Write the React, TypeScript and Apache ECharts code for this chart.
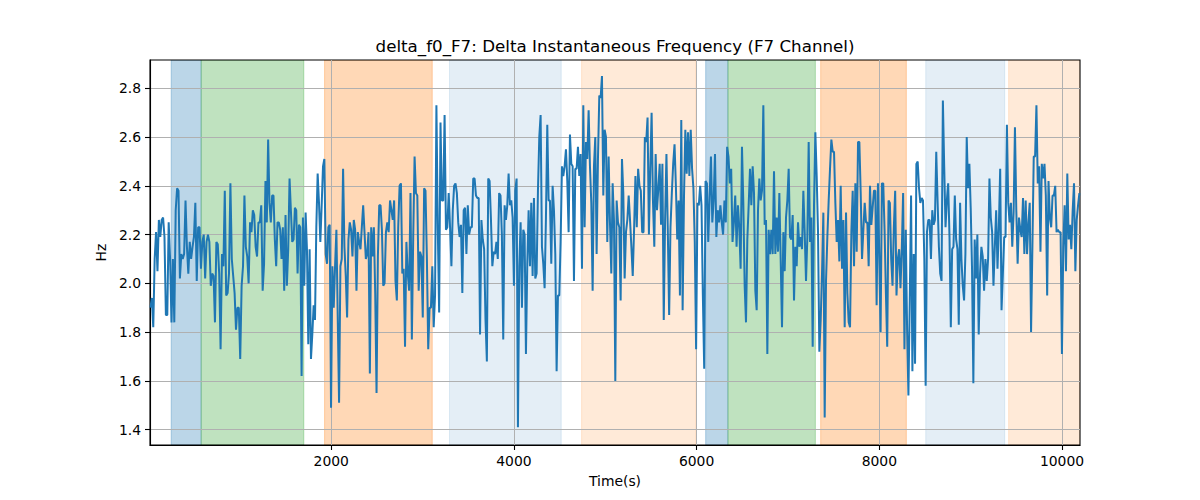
import React, { useEffect, useRef } from "react";
import * as echarts from "echarts";

// Time axis range (s) and Hz axis range
const xMin = 16;
const xMax = 10197;
const yMin = 1.337;
const yMax = 2.916;
const xTicks = [2000, 4000, 6000, 8000, 10000];
const yTicks = [1.4, 1.6, 1.8, 2.0, 2.2, 2.4, 2.6, 2.8];

// Start time (s) of each stretch of samples; last entry closes the final stretch
const sectionStarts = [21, 1280, 2584, 3898, 5212, 6526, 7840, 9044, 10205];

const section1 = [
  1.90, 1.94, 1.82, 2.10, 2.21, 2.05, 2.26, 2.19, 2.26, 2.27, 2.19,
  1.87, 1.87, 2.25, 2.10, 1.84, 2.10, 1.84, 2.30, 2.39, 2.38,
  2.02, 2.12, 2.10, 2.12, 2.34, 2.15, 2.04, 2.17, 2.10, 2.15,
  2.19, 2.33, 2.01, 2.23, 2.23, 2.06, 2.17, 2.20, 2.02, 2.17,
  2.20, 2.17, 1.99, 2.04, 2.03, 1.84, 2.17, 2.16, 2.04, 1.73,
  2.12, 2.07, 2.38, 1.95, 1.96, 2.04, 2.41, 2.10, 2.03, 1.96,
  1.81, 1.90, 1.90, 1.69, 1.99, 2.07, 2.36, 2.15, 2.11, 2.00,
  2.25, 2.21, 2.30, 2.28, 2.15, 2.11, 2.25, 2.25, 2.32, 1.97,
  2.08,
];
const section2 = [
  2.42, 2.25, 2.59, 2.33, 2.25, 2.36, 2.36, 2.18, 2.07, 2.25,
  2.25, 2.22, 2.10, 2.23, 1.97, 2.28, 1.99, 2.14, 2.43, 2.30,
  2.17, 2.18, 2.31, 2.30, 2.04, 2.24, 2.23, 1.62, 2.27, 1.99,
  2.29, 2.14, 1.75, 2.14, 1.69, 1.79, 1.91, 1.85, 2.23, 2.45,
  2.33, 2.17, 2.32, 2.48, 2.51, 2.12, 2.08, 2.23, 2.24, 1.49,
  2.07, 1.90, 2.07, 2.22, 1.86, 1.51, 2.07, 2.10, 2.47, 2.15,
  2.03, 1.86, 2.18, 2.25, 2.22, 2.11, 2.26, 2.22, 1.97, 2.21,
  2.17, 2.14, 2.23, 2.32, 2.21, 2.10, 2.12, 2.21, 1.63, 2.23,
  2.11, 2.23, 1.96, 1.55, 2.11, 2.32, 2.32, 2.22, 1.99,
];
const section3 = [
  2.00, 2.21, 2.25, 2.21, 2.34, 2.30, 2.26, 2.34, 2.01, 1.93,
  2.23, 2.40, 2.41, 2.04, 2.06, 1.74, 2.17, 2.04, 1.97, 2.37,
  1.77, 2.19, 2.52, 2.37, 2.36, 1.97, 2.13, 2.11, 1.86, 2.39,
  2.38, 2.11, 1.73, 1.90, 1.90, 2.07, 1.82, 1.95, 2.73, 2.23,
  1.88, 2.66, 2.34, 2.34, 2.69, 2.22, 2.23, 2.37, 2.23, 2.07,
  2.30, 2.40, 2.41, 2.37, 2.25, 2.19, 2.24, 1.96, 2.30, 2.31,
  2.12, 2.32, 2.20, 2.23, 2.23, 2.43, 2.43, 2.36, 2.35, 2.35,
  1.79, 2.26, 2.18, 2.14, 1.85, 1.68, 2.43, 2.42, 2.26, 2.07,
  2.13, 2.12, 2.17, 2.10, 2.37, 2.36, 2.20, 1.77,
];
const section4 = [
  2.32, 2.26, 2.32, 2.45, 2.32, 2.34, 2.27, 1.99, 2.38, 2.43,
  1.41, 2.07, 2.25, 1.90, 2.22, 2.20, 1.71, 2.08, 2.30, 2.07,
  2.33, 2.03, 2.35, 2.02, 2.04, 2.38, 2.60, 2.69, 2.15, 2.08,
  1.98, 2.27, 2.65, 2.34, 2.34, 2.08, 2.40, 2.30, 2.12, 1.64,
  1.95, 1.95, 2.17, 2.48, 2.44, 2.48, 2.55, 2.42, 2.21, 2.61,
  2.49, 2.48, 2.01, 2.47, 2.47, 2.56, 2.44, 2.53, 2.06, 2.73,
  2.23, 2.58, 2.51, 2.71, 2.48, 2.33, 1.97, 2.48, 2.60, 2.12,
  2.51, 2.77, 2.76, 2.85, 2.36, 2.63, 2.60, 2.17, 2.52, 2.25,
  2.04, 2.41, 2.26, 1.60, 2.34, 2.25, 2.23, 1.93, 2.51, 2.37,
];
const section5 = [
  2.02, 2.21, 2.26, 2.36, 2.26, 2.15, 2.03, 2.22, 2.44, 2.23,
  2.47, 2.40, 2.38, 2.21, 2.21, 2.60, 2.58, 2.68, 2.20, 2.47,
  2.70, 2.34, 2.15, 2.53, 2.30, 2.39, 2.49, 2.24, 2.49, 1.85,
  2.26, 2.53, 2.22, 1.87, 2.23, 2.37, 2.49, 2.57, 2.40, 2.18,
  2.34, 1.95, 2.67, 1.89, 2.35, 2.63, 2.45, 2.62, 2.44, 2.63,
  2.47, 2.39, 2.17, 1.73, 2.33, 2.32, 2.40, 2.32, 1.95, 1.65,
  2.42, 2.41, 2.17, 2.35, 2.52, 2.25, 2.34, 2.53, 2.19, 2.30,
  2.25, 2.32, 2.25, 2.20, 2.34, 2.25, 2.56, 2.52, 2.41, 2.47,
  2.17, 2.25, 2.36, 2.15, 2.32, 2.23, 2.06, 2.56, 2.33,
];
const section6 = [
  1.99, 1.84, 2.18, 2.32, 2.47, 2.32, 2.48, 2.37, 1.97, 1.89,
  2.30, 2.43, 2.34, 2.38, 2.73, 2.24, 2.26, 1.71, 2.22, 2.12,
  2.22, 2.12, 2.46, 2.12, 2.27, 2.13, 2.37, 2.10, 1.82, 2.21,
  2.05, 2.27, 2.34, 2.47, 2.19, 2.18, 2.28, 1.93, 2.15, 2.07,
  2.25, 2.15, 2.19, 2.14, 2.38, 2.21, 2.01, 2.19, 2.58, 2.17,
  2.27, 1.74, 2.32, 2.62, 2.44, 2.21, 1.72, 1.85, 2.04, 2.29,
  1.45, 2.01, 2.19, 2.34, 2.47, 2.59, 2.54, 2.54, 2.33, 2.17,
  2.26, 2.09, 2.40, 2.06, 2.26, 1.82, 2.29, 1.96, 1.84, 1.82,
  2.21, 2.38, 2.07, 2.41, 2.13, 2.58, 2.58, 2.37, 2.10, 2.22,
];
const section7 = [
  2.33, 2.25, 2.25, 2.07, 2.40, 2.24, 2.31, 2.38, 2.38, 1.91,
  2.41, 2.11, 1.80, 2.41, 2.41, 2.22, 1.96, 1.74, 2.34, 2.33,
  2.10, 1.99, 2.23, 2.38, 1.95, 2.10, 2.14, 1.98, 2.14, 2.37,
  1.73, 2.22, 1.81, 1.54, 1.93, 2.36, 1.64, 2.12, 1.67, 2.49,
  2.50, 2.39, 2.33, 2.35, 2.34, 2.10, 1.58, 2.21, 2.26, 2.26,
  2.10, 2.30, 2.24, 2.26, 2.54, 2.34, 2.15, 2.04, 2.01, 2.75,
  2.48, 2.23, 2.34, 2.41, 2.19, 1.82, 2.14, 2.15, 2.36, 2.18,
  2.14, 1.83, 2.33, 2.10, 1.99, 1.93, 2.12, 2.60, 2.39, 2.49,
  2.31, 2.06, 1.59,
];
const section8 = [
  2.18, 2.02, 2.20, 1.79, 2.04, 2.15, 2.11, 1.97, 2.10, 2.01,
  2.10, 2.43, 2.27, 2.21, 1.99, 2.15, 2.30, 2.06, 2.23, 2.47,
  1.89, 2.04, 2.19, 2.19, 2.65, 2.33, 2.25, 2.33, 2.15, 2.29,
  2.64, 2.30, 2.08, 2.27, 2.22, 2.19, 2.35, 2.12, 2.34, 2.12,
  2.25, 2.33, 1.80, 2.15, 2.52, 2.52, 2.73, 2.41, 2.48, 2.13,
  2.49, 2.43, 2.49, 2.36, 1.95, 2.42, 2.27, 2.23, 2.36, 2.36,
  2.40, 2.21, 2.22, 2.21, 2.21, 1.71, 2.15, 2.32, 2.05, 2.45,
  2.18, 2.24, 2.14, 2.30, 2.41, 2.05, 2.26, 2.32, 2.37,
];
const sections = [section1, section2, section3, section4, section5, section6, section7, section8];

// Shaded stage spans (s)
const spanStarts = [248, 576, 1927, 3295, 4741, 6099, 6343, 7358, 8508, 9416];
const spanEnds = [576, 1700, 3106, 4518, 5989, 6343, 7300, 8296, 9373, 10197];
const spanKinds = ["blue", "green", "orange", "lightblue", "lightorange", "blue", "green", "orange", "lightblue", "lightorange"];
const spanColors: Record<string, string> = {
  blue: "rgba(31,119,180,0.3)",
  green: "rgba(44,160,44,0.3)",
  orange: "rgba(255,127,14,0.3)",
  lightblue: "rgba(31,119,180,0.12)",
  lightorange: "rgba(255,127,14,0.16)",
};

const FONT = "DejaVu Sans";

export default function App() {
  const ref = useRef<HTMLDivElement>(null);
  useEffect(() => {
    if (!ref.current) return;
    const chart = echarts.init(ref.current, undefined, { renderer: "svg" });
    const lineData: number[][] = [];
    sections.forEach((vals, s) => {
      const t0 = sectionStarts[s];
      const dt = (sectionStarts[s + 1] - t0) / vals.length;
      vals.forEach((v, i) => lineData.push([t0 + i * dt, v]));
    });
    const spanData = spanStarts.map((s, i) => [s, spanEnds[i], i]);
    chart.setOption({
      animation: false,
      backgroundColor: "#fff",
      textStyle: { fontFamily: FONT },
      title: {
        text: "delta_f0_F7: Delta Instantaneous Frequency (F7 Channel)",
        left: 615,
        top: 37,
        textAlign: "center",
        padding: 0,
        textStyle: { fontFamily: FONT, fontSize: 16.7, fontWeight: "normal", color: "#000" },
      },
      grid: {
        left: 150,
        top: 60,
        width: 930,
        height: 385,
        show: true,
        z: 2,
        borderColor: "#000",
        borderWidth: 1.1,
        backgroundColor: "transparent",
      },
      xAxis: {
        type: "value",
        z: 2,
        min: xMin,
        max: xMax,
        minInterval: 2000,
        maxInterval: 2000,
        name: "Time(s)",
        nameLocation: "middle",
        nameGap: 29,
        nameTextStyle: { fontFamily: FONT, fontSize: 13.9, color: "#000" },
        axisLine: { show: true, lineStyle: { color: "#000", width: 1.1 } },
        axisTick: { show: true, length: 5, customValues: xTicks, lineStyle: { color: "#000", width: 1.1 } },
        axisLabel: {
          customValues: xTicks,
          formatter: (v: number) => String(Math.round(v)),
          margin: 9,
          fontFamily: FONT,
          fontSize: 13.9,
          color: "#000",
        },
        splitLine: { show: true, lineStyle: { color: "#b0b0b0", width: 1 } },
      },
      yAxis: {
        type: "value",
        z: 2,
        min: yMin,
        max: yMax,
        minInterval: 0.2,
        maxInterval: 0.2,
        name: "Hz",
        nameLocation: "middle",
        nameGap: 37,
        nameTextStyle: { fontFamily: FONT, fontSize: 13.9, color: "#000" },
        axisLine: { show: true, lineStyle: { color: "#000", width: 1.1 } },
        axisTick: { show: true, length: 5, customValues: yTicks, lineStyle: { color: "#000", width: 1.1 } },
        axisLabel: {
          customValues: yTicks,
          formatter: (v: number) => v.toFixed(1),
          margin: 9,
          fontFamily: FONT,
          fontSize: 13.9,
          color: "#000",
        },
        splitLine: { show: true, lineStyle: { color: "#b0b0b0", width: 1 } },
      },
      series: [
        {
          type: "custom",
          silent: true,
          clip: true,
          z: 1,
          encode: { x: [0, 1] },
          data: spanData,
          renderItem: (_params: any, api: any) => {
            const s = api.value(0);
            const e = api.value(1);
            const kind = spanKinds[api.value(2)];
            const p0 = api.coord([s, yMax]);
            const p1 = api.coord([e, yMin]);
            const color = spanColors[kind];
            return {
              type: "rect",
              shape: { x: p0[0], y: p0[1], width: p1[0] - p0[0], height: p1[1] - p0[1] },
              style: { fill: color, stroke: color, lineWidth: 1 },
            };
          },
        },
        {
          type: "line",
          z: 3,
          showSymbol: false,
          clip: true,
          data: lineData,
          lineStyle: { color: "#1f77b4", width: 2 },
          itemStyle: { color: "#1f77b4" },
        },
      ],
    });
    return () => chart.dispose();
  }, []);
  return (
    <div
      ref={ref}
      style={{ position: "absolute", left: 0, top: 0, width: 1200, height: 500, background: "#fff" }}
    />
  );
}
